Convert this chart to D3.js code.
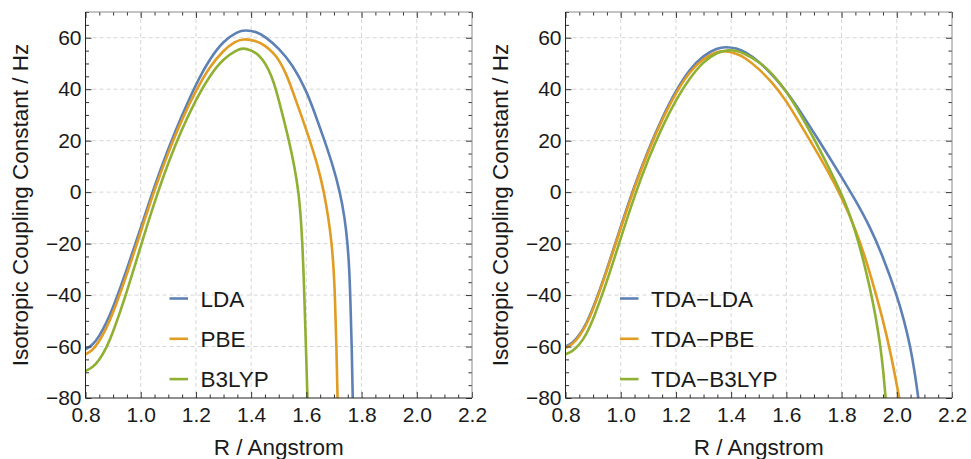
<!DOCTYPE html>
<html>
<head>
<meta charset="utf-8">
<script src="https://cdn.jsdelivr.net/npm/d3@7"></script>
<style>
  body { margin: 0; background: #fff; }
  svg { display: block; }
  .tick text { font-family: "Liberation Sans", Arial, sans-serif; fill: #1a1a1a; }
</style>
</head>
<body>
<div class="svg-container"></div>
<script>
// Global Variables
const canvasWidth = 971;
const canvasHeight = 459;
const panelLeft = [85.5, 565.5];
const panelWidth = 386.5;
const plotTop = 12;
const plotBottom = 398;

const colors = ["#5e81b5", "#e19c24", "#8fb032"];
const leftNames = ["LDA", "PBE", "B3LYP"];
const rightNames = ["TDA\u2212LDA", "TDA\u2212PBE", "TDA\u2212B3LYP"];

const xMajor = [0.8, 1.0, 1.2, 1.4, 1.6, 1.8, 2.0, 2.2];
const yMajor = [-80, -60, -40, -20, 0, 20, 40, 60];

// [R, J] pairs
const lda = [[0.8, -61], [0.825, -59.6], [0.85, -56], [0.875, -51], [0.9, -45], [0.95, -30],
  [1.0, -14], [1.05, 2.5], [1.1, 17], [1.15, 30], [1.2, 42], [1.25, 51.8], [1.3, 58.8],
  [1.35, 62.4], [1.38, 63], [1.42, 62.3], [1.45, 60.5], [1.5, 56], [1.55, 49.5], [1.598, 40],
  [1.633, 30], [1.666, 20], [1.697, 10], [1.722, 0], [1.739, -10], [1.7495, -20],
  [1.7555, -30], [1.759, -40], [1.7645, -60], [1.768, -80]];
const pbe = [[0.8, -63], [0.825, -61.6], [0.85, -58], [0.875, -53], [0.9, -47], [0.95, -32],
  [1.0, -15.5], [1.05, 1], [1.1, 15.5], [1.15, 28.5], [1.2, 39.5], [1.25, 48.8], [1.3, 55.2],
  [1.34, 58.4], [1.37, 59.7], [1.42, 58.8], [1.45, 57], [1.48, 54.2], [1.5, 51.5],
  [1.525, 46.5], [1.548, 40], [1.581, 30], [1.613, 20], [1.642, 10], [1.664, 0], [1.68, -10],
  [1.692, -20], [1.699, -30], [1.7035, -40], [1.709, -60], [1.713, -80]];
const b3lyp = [[0.8, -69.5], [0.825, -68.2], [0.85, -65.3], [0.875, -60.7], [0.9, -54.5],
  [0.95, -38.8], [1.0, -21], [1.05, -3.8], [1.1, 11.6], [1.15, 24.7], [1.2, 36], [1.25, 45.3],
  [1.3, 52], [1.35, 55.3], [1.37, 56], [1.4, 55.2], [1.43, 53.2], [1.455, 49.5], [1.474, 45],
  [1.49, 40], [1.514, 30], [1.537, 20], [1.557, 10], [1.572, 0], [1.58, -10], [1.5855, -20],
  [1.5895, -30], [1.5925, -40], [1.5985, -60], [1.604, -80]];

const tdaLda = [[0.8, -60], [0.825, -58.7], [0.85, -55.7], [0.875, -51.2], [0.9, -45.2],
  [0.95, -30.2], [1.0, -13.4], [1.05, 2.6], [1.1, 16.6], [1.15, 28.9], [1.2, 39.5], [1.25, 47.8],
  [1.3, 53.2], [1.35, 56], [1.38, 56.5], [1.42, 55.9], [1.45, 54.6], [1.5, 50.9], [1.55, 45.5],
  [1.6, 39.3], [1.65, 31.5], [1.7, 23], [1.75, 14.6], [1.8, 5.9], [1.85, -3.1], [1.9, -12.8],
  [1.95, -25], [2.0, -40], [2.027, -50], [2.049, -60], [2.065, -70], [2.078, -80]];
const tdaPbe = [[0.8, -60.5], [0.825, -59.2], [0.85, -56.2], [0.875, -51.7], [0.9, -45.7],
  [0.95, -30.7], [1.0, -14], [1.05, 2], [1.1, 16], [1.15, 28.2], [1.2, 38.7], [1.25, 46.9],
  [1.3, 52.1], [1.35, 54.6], [1.373, 55], [1.42, 53.8], [1.45, 52.3], [1.5, 48], [1.55, 42.5],
  [1.6, 35.5], [1.65, 26.5], [1.7, 17.5], [1.75, 8.3], [1.8, -2], [1.85, -14], [1.9, -30],
  [1.95, -49.5], [1.98, -63.5], [2.009, -80]];
const tdaB3lyp = [[0.8, -63], [0.825, -61.9], [0.85, -59.4], [0.875, -55.3], [0.9, -49.6],
  [0.95, -34.9], [1.0, -17.9], [1.05, -1.4], [1.1, 13], [1.15, 25.4], [1.2, 35.9], [1.25, 44.4],
  [1.3, 50.8], [1.35, 54.4], [1.39, 55.3], [1.42, 55], [1.45, 53.8], [1.5, 50.8], [1.55, 46],
  [1.6, 39.2], [1.65, 30.5], [1.7, 20.8], [1.75, 10.5], [1.8, -0.8], [1.82, -6], [1.84, -12],
  [1.86, -19], [1.88, -27], [1.9, -36], [1.915, -43.5], [1.93, -52.5], [1.942, -61],
  [1.951, -69.5], [1.958, -78], [1.9595, -80]];

const panels = [
  { names: leftNames, series: [lda, pbe, b3lyp], legendX: 169.5 },
  { names: rightNames, series: [tdaLda, tdaPbe, tdaB3lyp], legendX: 620 }
];

const svg = d3.select(".svg-container")
  .append("svg")
  .attr("width", canvasWidth)
  .attr("height", canvasHeight);

const yScale = d3.scaleLinear().domain([-80, 70]).range([plotBottom, plotTop]);
const fmt = d3.format("");
const xFmt = d3.format(".1f");

panels.forEach((p, pi) => {
  const x0 = panelLeft[pi];
  const xScale = d3.scaleLinear().domain([0.8, 2.2]).range([x0, x0 + panelWidth]);
  const g = svg.append("g");

  // Grid
  g.append("g").selectAll("line")
    .data(xMajor.slice(1, -1))
    .enter().append("line")
    .attr("x1", (d) => xScale(d)).attr("x2", (d) => xScale(d))
    .attr("y1", plotTop).attr("y2", plotBottom)
    .attr("stroke", "#d6d6d6").attr("stroke-dasharray", "4,3");
  g.append("g").selectAll("line")
    .data(yMajor.slice(1))
    .enter().append("line")
    .attr("y1", (d) => yScale(d)).attr("y2", (d) => yScale(d))
    .attr("x1", x0).attr("x2", x0 + panelWidth)
    .attr("stroke", "#d6d6d6").attr("stroke-dasharray", "4,3");

  // Curves
  const clipId = "clip" + pi;
  g.append("clipPath").attr("id", clipId)
    .append("rect")
    .attr("x", x0).attr("y", plotTop)
    .attr("width", panelWidth).attr("height", plotBottom - plotTop);

  const line = d3.line()
    .x((d) => xScale(d[0]))
    .y((d) => yScale(d[1]))
    .curve(d3.curveBasis);

  g.append("g").attr("clip-path", `url(#${clipId})`)
    .selectAll("path")
    .data(p.series)
    .enter().append("path")
    .attr("d", line)
    .attr("fill", "none")
    .attr("stroke", (d, i) => colors[i])
    .attr("stroke-width", 2.6);

  // Minor ticks
  const xMinor = d3.range(0.8, 2.2001, 0.05).filter((v) => Math.abs(v * 5 - Math.round(v * 5)) > 1e-6);
  const yMinor = d3.range(-80, 70.001, 5).filter((v) => v % 20 !== 0);

  const axes = [
    [d3.axisBottom(xScale), `translate(0,${plotBottom})`, xMajor, xMinor, true],
    [d3.axisTop(xScale), `translate(0,${plotTop})`, xMajor, xMinor, false],
    [d3.axisLeft(yScale), `translate(${x0},0)`, yMajor, yMinor, true],
    [d3.axisRight(yScale), `translate(${x0 + panelWidth},0)`, yMajor, yMinor, false]
  ];
  axes.forEach(([ax, tr, major, minor, labels], k) => {
    const isX = k < 2;
    const a = g.append("g").attr("transform", tr)
      .call(ax.tickValues(major).tickSizeInner(-6).tickSizeOuter(0)
        .tickPadding(isX ? 9 : 4)
        .tickFormat(labels ? (isX ? xFmt : fmt) : ""));
    a.select(".domain").remove();
    a.selectAll(".tick line").attr("stroke", "#333");
    a.selectAll(".tick text").attr("font-size", 21);
    const m = g.append("g").attr("transform", tr)
      .call(ax.tickValues(minor).tickSizeInner(-3.5).tickFormat(""));
    m.select(".domain").remove();
    m.selectAll(".tick line").attr("stroke", "#333");
  });

  // Frame
  g.append("line").attr("x1", x0).attr("x2", x0 + panelWidth).attr("y1", plotTop).attr("y2", plotTop)
    .attr("stroke", "#8a8a8a");
  g.append("line").attr("x1", x0 + panelWidth).attr("x2", x0 + panelWidth).attr("y1", plotTop).attr("y2", plotBottom)
    .attr("stroke", "#8a8a8a");
  g.append("line").attr("x1", x0).attr("x2", x0 + panelWidth).attr("y1", plotBottom).attr("y2", plotBottom)
    .attr("stroke", "#222");
  g.append("line").attr("x1", x0).attr("x2", x0).attr("y1", plotTop).attr("y2", plotBottom)
    .attr("stroke", "#222");

  // Axis titles
  g.append("text")
    .attr("x", x0 + panelWidth / 2)
    .attr("y", 455)
    .attr("text-anchor", "middle")
    .attr("font-family", "Liberation Sans, Arial, sans-serif")
    .attr("font-size", 22.5)
    .attr("fill", "#1a1a1a")
    .text("R / Angstrom");
  g.append("text")
    .attr("transform", `translate(${x0 - 58},${(plotTop + plotBottom) / 2}) rotate(-90)`)
    .attr("text-anchor", "middle")
    .attr("font-family", "Liberation Sans, Arial, sans-serif")
    .attr("font-size", 22.5)
    .attr("fill", "#1a1a1a")
    .text("Isotropic Coupling Constant / Hz");

  // Legend
  const leg = g.append("g").selectAll("g")
    .data(p.names)
    .enter().append("g")
    .attr("transform", (d, i) => `translate(${p.legendX},${298.5 + i * 40.3})`);
  leg.append("line")
    .attr("x1", 0).attr("x2", 18.5).attr("y1", 0).attr("y2", 0)
    .attr("stroke", (d, i) => colors[i]).attr("stroke-width", 2.6);
  leg.append("text")
    .attr("x", 31).attr("y", 8)
    .attr("font-family", "Liberation Sans, Arial, sans-serif")
    .attr("font-size", 22.5)
    .attr("fill", "#1a1a1a")
    .text((d) => d);
});
</script>
</body>
</html>
